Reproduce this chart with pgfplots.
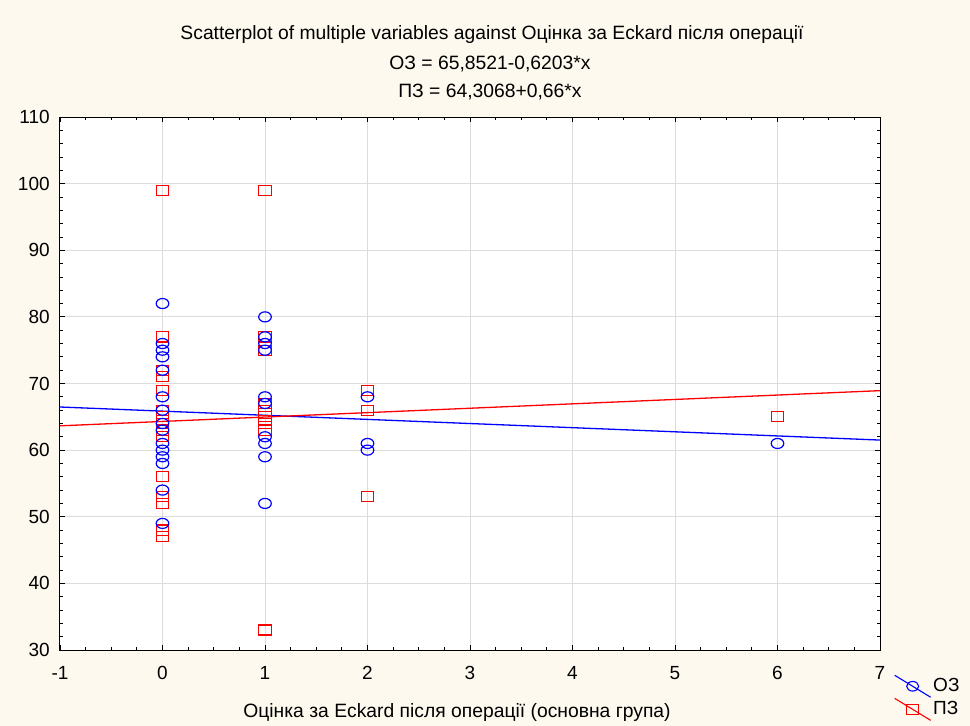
\documentclass[border=0pt]{standalone}
\usepackage{fontspec}
\setmainfont{Liberation Sans}
\usepackage{pgfplots}
\pgfplotsset{compat=1.18}
\definecolor{bgc}{RGB}{253,249,238}
\definecolor{gridc}{RGB}{220,220,220}
\definecolor{oz}{RGB}{0,0,255}
\definecolor{pz}{RGB}{255,0,0}
\pgfplotsset{
  pzmark/.style={only marks, red, mark=square, mark size=6.3pt, mark options={solid, draw=red, fill=none, yscale=0.8, line width=1.2pt}, forget plot},
  ozmark/.style={only marks, blue, mark=o, mark size=6.3pt, mark options={solid, draw=blue, fill=none, yscale=0.8, line width=1.2pt}, forget plot},
}
\begin{document}
\fontsize{19.3}{22}\selectfont
\begin{tikzpicture}
\path[use as bounding box, fill=bgc] (-60pt,-76pt) rectangle (910pt,650pt);
\begin{axis}[
 at={(0pt,0pt)}, anchor=south west,
 scale only axis, width=820pt, height=533pt,
 xmin=-1, xmax=7, ymin=30, ymax=110,
 xtick={-1,0,...,7}, ytick={30,40,...,110},
 minor x tick num=3, minor y tick num=4,
 tick align=inside, major tick length=5pt, minor tick length=3pt,
 tick style={black, line width=0.8pt},
 grid=major, major grid style={gridc, line width=1pt},
 axis line style={line width=1pt, black},
 axis background/.style={fill=white},
 /pgf/number format/assume math mode=true,
 ticklabel style={font=\fontsize{19}{22}\selectfont},
 xticklabel style={yshift=-10pt},
 yticklabel style={xshift=-3.7pt},
 legend style={draw=none, fill=none, at={(1.017,-0.046)}, anchor=north west,
   font=\fontsize{19}{22}\selectfont, inner sep=0pt, row sep=0pt},
 legend cell align=left,
 legend image code/.code={\draw[mark repeat=2,mark phase=2,#1] plot coordinates {(0pt,11pt) (18pt,0pt) (36pt,-11pt)};},
]
% ПЗ points
\addplot[pzmark] coordinates {(0,99) (0,77) (0,72) (0,71) (0,69) (0,66) (0,65) (0,64) (0,63) (0,62) (0,56) (0,53) (0,52) (0,48) (0,47)};
\addplot[pzmark] coordinates {(1,99) (1,77) (1,75) (1,67) (1,66) (1,65) (1,64) (1,63) (1,33)};
\addplot[pzmark] coordinates {(2,69) (2,66) (2,53)};
\addplot[pzmark] coordinates {(6,65)};
% ОЗ points
\addplot[ozmark] coordinates {(0,82) (0,76) (0,75) (0,74) (0,72) (0,68) (0,66) (0,64) (0,63) (0,61) (0,60) (0,59) (0,58) (0,54) (0,49)};
\addplot[ozmark] coordinates {(1,80) (1,77) (1,76) (1,75) (1,68) (1,67) (1,62) (1,61) (1,59) (1,52)};
\addplot[ozmark] coordinates {(2,68) (2,61) (2,60)};
\addplot[ozmark] coordinates {(6,61)};
% regression lines
\addplot[oz, line width=1.3pt, forget plot] coordinates {(-1,66.4724) (7,61.5100)};
\addplot[pz, line width=1.3pt, forget plot] coordinates {(-1,63.6468) (7,68.9268)};
\addlegendimage{oz, line width=1.1pt, mark=o, mark size=6pt, mark options={draw=oz, yscale=0.8}}
\addlegendentry{ОЗ}
\addlegendimage{pz, line width=1.1pt, mark=square, mark size=6pt, mark options={draw=pz, yscale=0.8}}
\addlegendentry{ПЗ}
\end{axis}
\node[font=\fontsize{19.3}{22}\selectfont] at (432pt,615pt) {Scatterplot of multiple variables against Оцінка за Eckard після операції};
\node[font=\fontsize{19.3}{22}\selectfont] at (430pt,586pt) {ОЗ = 65,8521-0,6203*x};
\node[font=\fontsize{19.3}{22}\selectfont] at (430pt,558pt) {ПЗ = 64,3068+0,66*x};
\node[font=\fontsize{19.3}{22}\selectfont] at (397pt,-63pt) {Оцінка за Eckard після операції (основна група)};
\end{tikzpicture}
\end{document}
